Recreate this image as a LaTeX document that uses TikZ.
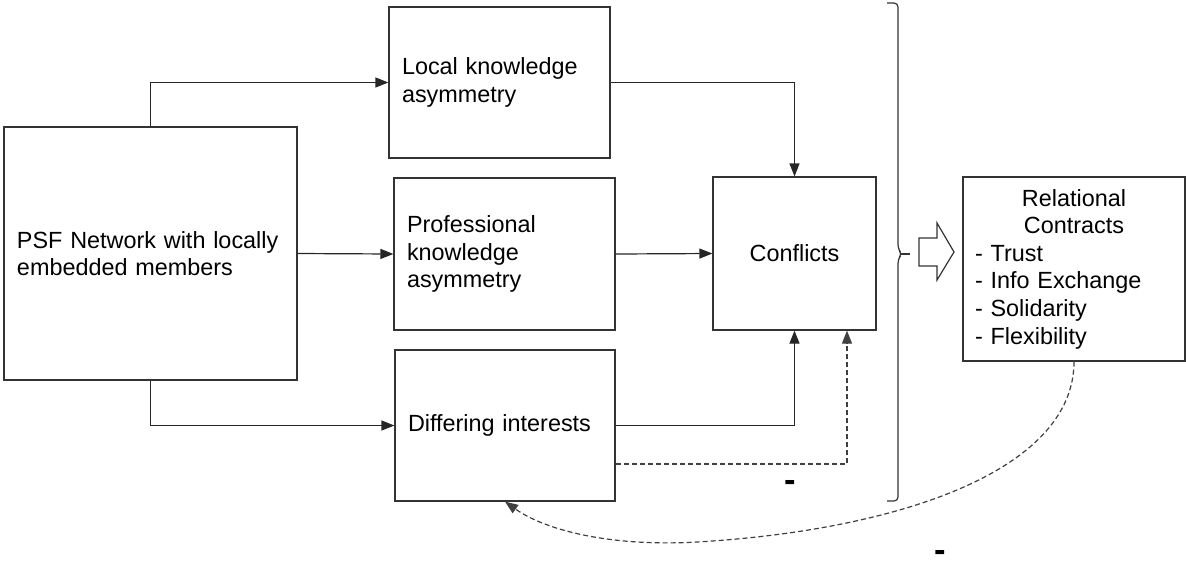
\documentclass[tikz,border=0pt]{standalone}
\usepackage{fontspec}
\setmainfont{Liberation Sans}
\usepackage{tikz}
\usepackage{xcolor}
\usetikzlibrary{arrows.meta}

\tikzset{
    box/.style = {draw = black!80, line width = 0.6pt, inner xsep = 6.5pt, inner ysep = 0pt, align = left},
    link/.style = {draw = black!85, line width = 0.6pt, ->},
    dashlink/.style = {draw = black!75, line width = 0.6pt, dash pattern = on 2.5pt off 1.5pt, ->},
    minus/.style = {font = \LARGE\bfseries, inner sep = 0pt}
}

\begin{document}
\begin{tikzpicture}[x=0.5pt, y=-0.5pt, >={Triangle[length=6.5pt,width=5pt]},
    font=\fontsize{11.7}{13.8}\selectfont]
    \useasboundingbox (0,0) rectangle (1186,569);

    \node[box, minimum width = 146.5pt, minimum height = 126.5pt, text width = 133.5pt] (psf) at (150.5,253.5)
        {PSF Network with locally\\embedded members};
    \node[box, minimum width = 110.5pt, minimum height = 75.5pt, text width = 97.5pt] (local) at (499.5,82.5)
        {Local knowledge\\asymmetry};
    \node[box, minimum width = 110.5pt, minimum height = 76pt, text width = 97.5pt] (prof) at (504.5,254)
        {Professional\\knowledge\\asymmetry};
    \node[box, minimum width = 110pt, minimum height = 75.5pt, text width = 97pt] (diff) at (505,425.5)
        {Differing interests};
    \node[box, align = center, minimum width = 81.5pt, minimum height = 76.5pt] (conf) at (794.5,253.5)
        {Conflicts};
    \node[box, inner xsep = 6pt, minimum width = 111pt, minimum height = 92pt, text width = 99pt] (rel) at (1074,269)
        {\makebox[99pt]{Relational}\\\makebox[99pt]{Contracts}\\- Trust\\- Info Exchange\\- Solidarity\\- Flexibility};

    \draw[link] (psf.north) |- (local.west);
    \draw[link] (psf.east) -- (prof.west);
    \draw[link] (psf.south) |- (diff.west);
    \draw[link] (local.east) -| (conf.north);
    \draw[link] (prof.east) -- (conf.west);
    \draw[link] (diff.east) -| (conf.south);
    \draw[dashlink] ([yshift=-19.25pt]diff.east) -| ([xshift=26.25pt]conf.south);

    % brace round the conflicts part
    \draw[draw = black!80, line width = 0.6pt, rounded corners = 2pt]
        (887,3) -- (898,3) -- (898,249) -- (902,254) -- (898,259) -- (898,501) -- (887,501);
    \draw[draw = black!80, line width = 0.6pt] (901,254) -- (910,254);
    \draw[draw = black!80, line width = 0.6pt, fill = white]
        (919,238) -- (937,238) -- (937,223) -- (954,252) -- (937,280) -- (937,266) -- (919,266) -- cycle;

    \draw[dashlink] (rel.south) .. controls (1074,470) and (900,530) .. (697,542)
        .. controls (610,547) and (545,530) .. (diff.south);

    \node[minus] (m1) at (790,486) {-};
    \node[minus] (m2) at (940,556) {-};
\end{tikzpicture}
\end{document}
